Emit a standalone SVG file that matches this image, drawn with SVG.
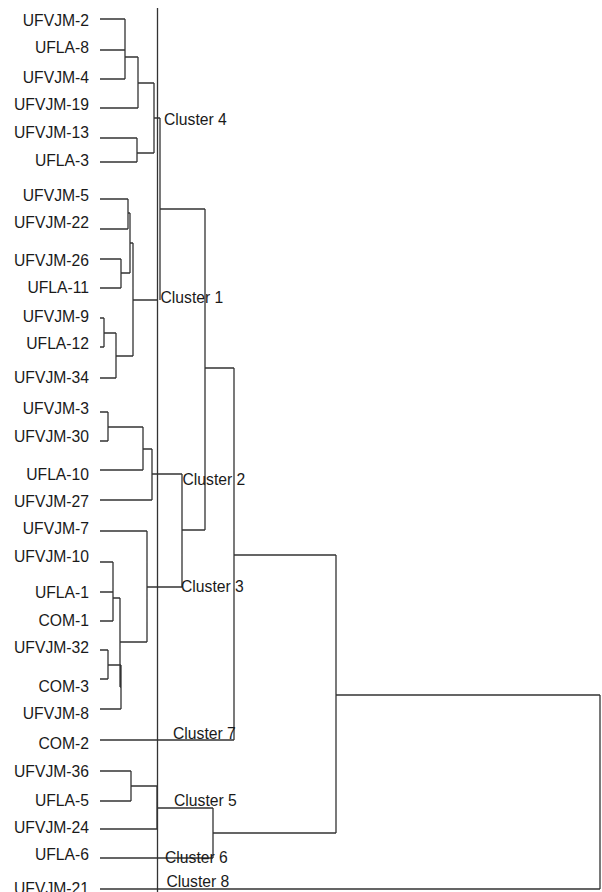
<svg xmlns="http://www.w3.org/2000/svg" width="602" height="892" viewBox="0 0 602 892">
<style>
.leaf{font-family:"Liberation Sans",Arial,sans-serif;font-size:15.7px;fill:#1a1a1a;text-anchor:end}
.cl{font-family:"Liberation Sans",Arial,sans-serif;font-size:15.7px;fill:#1a1a1a}
.ln{fill:none;stroke:#333;stroke-width:1.3}
</style>
<rect width="602" height="892" fill="#fff"/>
<g id="connectors" class="ln">
<path d="M157.5 8V892"/>
<path d="M100 19H125M100 50H125M100 79H125M125 19V79M125 57H138M100 108H138M138 57V108M138 83H154"/>
<path d="M100 138H137M100 162H137M137 138V162M137 153H154M154 83V153M154 118H160"/>
<path d="M100 199H128M100 229H128M128 199V229M128 213H130M100 259H121M100 288H121M121 259V288M121 273H130M130 213V273M130 243H133M133 243V356M133 300H158"/>
<path d="M100 318H104M100 347H104M104 318V347M104 333H116M100 378H116M116 333V378M116 356H133"/>
<path d="M160 118V300M160 209H205"/>
<path d="M100 412H108M100 441H108M108 412V441M108 427H143M100 470H143M143 427V470M143 449H152M100 500H152M152 449V500M152 474H182"/>
<path d="M100 531H147M100 562H113M100 592H113M100 621H113M113 562V621M113 598H120M100 650H108M100 679H108M108 650V679M108 665H121M100 709H121M121 665V709M121 687H120M120 598V687M120 642H147M147 531V642M147 587H182"/>
<path d="M182 474V587M182 530H205M205 209V530M205 368H234M100 740H234M234 368V740M234 555H336"/>
<path d="M100 771H131M100 801H131M131 771V801M131 786H157M100 829H157M157 786V829M157 808H213M100 858H213M213 808V858M213 833H336M336 555V833M336 695H600M100 889H600M600 695V889"/>
</g>
<g id="leaf-UFVJM-2"><text class="leaf" x="89" y="26">UFVJM-2</text></g>
<g id="leaf-UFLA-8"><text class="leaf" x="89" y="53">UFLA-8</text></g>
<g id="leaf-UFVJM-4"><text class="leaf" x="89" y="83">UFVJM-4</text></g>
<g id="leaf-UFVJM-19"><text class="leaf" x="89" y="110">UFVJM-19</text></g>
<g id="leaf-UFVJM-13"><text class="leaf" x="89" y="137.5">UFVJM-13</text></g>
<g id="leaf-UFLA-3"><text class="leaf" x="89" y="165.5">UFLA-3</text></g>
<g id="leaf-UFVJM-5"><text class="leaf" x="89" y="200.5">UFVJM-5</text></g>
<g id="leaf-UFVJM-22"><text class="leaf" x="89" y="228">UFVJM-22</text></g>
<g id="leaf-UFVJM-26"><text class="leaf" x="89" y="265.5">UFVJM-26</text></g>
<g id="leaf-UFLA-11"><text class="leaf" x="89" y="293">UFLA-11</text></g>
<g id="leaf-UFVJM-9"><text class="leaf" x="89" y="321.5">UFVJM-9</text></g>
<g id="leaf-UFLA-12"><text class="leaf" x="89" y="349">UFLA-12</text></g>
<g id="leaf-UFVJM-34"><text class="leaf" x="89" y="383">UFVJM-34</text></g>
<g id="leaf-UFVJM-3"><text class="leaf" x="89" y="414">UFVJM-3</text></g>
<g id="leaf-UFVJM-30"><text class="leaf" x="89" y="441.5">UFVJM-30</text></g>
<g id="leaf-UFLA-10"><text class="leaf" x="89" y="480">UFLA-10</text></g>
<g id="leaf-UFVJM-27"><text class="leaf" x="89" y="507">UFVJM-27</text></g>
<g id="leaf-UFVJM-7"><text class="leaf" x="89" y="534">UFVJM-7</text></g>
<g id="leaf-UFVJM-10"><text class="leaf" x="89" y="562">UFVJM-10</text></g>
<g id="leaf-UFLA-1"><text class="leaf" x="89" y="598">UFLA-1</text></g>
<g id="leaf-COM-1"><text class="leaf" x="89" y="626">COM-1</text></g>
<g id="leaf-UFVJM-32"><text class="leaf" x="89" y="653">UFVJM-32</text></g>
<g id="leaf-COM-3"><text class="leaf" x="89" y="691.5">COM-3</text></g>
<g id="leaf-UFVJM-8"><text class="leaf" x="89" y="719">UFVJM-8</text></g>
<g id="leaf-COM-2"><text class="leaf" x="89" y="749">COM-2</text></g>
<g id="leaf-UFVJM-36"><text class="leaf" x="89" y="777">UFVJM-36</text></g>
<g id="leaf-UFLA-5"><text class="leaf" x="89" y="806">UFLA-5</text></g>
<g id="leaf-UFVJM-24"><text class="leaf" x="89" y="832.5">UFVJM-24</text></g>
<g id="leaf-UFLA-6"><text class="leaf" x="89" y="860">UFLA-6</text></g>
<g id="leaf-UFVJM-21"><text class="leaf" x="89" y="894">UFVJM-21</text></g>
<g id="cluster-4"><text class="cl" x="164" y="125">Cluster 4</text></g>
<g id="cluster-1"><text class="cl" x="160.5" y="303">Cluster 1</text></g>
<g id="cluster-2"><text class="cl" x="182.5" y="485">Cluster 2</text></g>
<g id="cluster-3"><text class="cl" x="181" y="592">Cluster 3</text></g>
<g id="cluster-7"><text class="cl" x="173" y="739">Cluster 7</text></g>
<g id="cluster-5"><text class="cl" x="174" y="806">Cluster 5</text></g>
<g id="cluster-6"><text class="cl" x="165" y="862.5">Cluster 6</text></g>
<g id="cluster-8"><text class="cl" x="166.5" y="887">Cluster 8</text></g>
</svg>
